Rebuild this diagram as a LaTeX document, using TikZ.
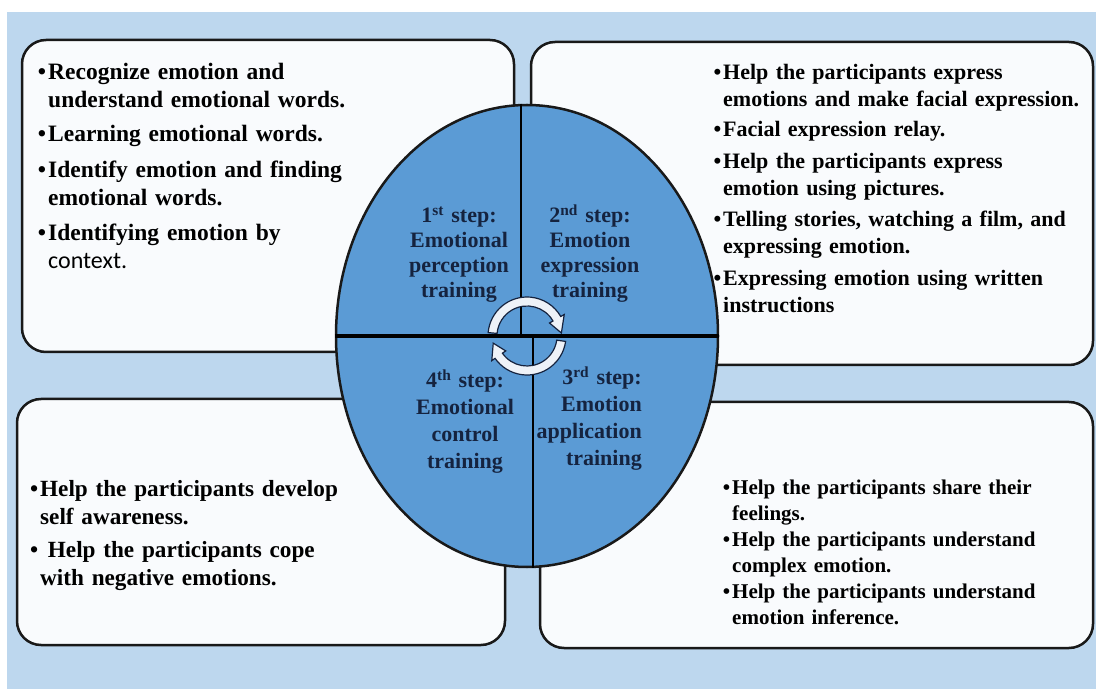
\documentclass[tikz,border=0pt]{standalone}
\usepackage{fontspec}
\setmainfont{Liberation Serif}
\newfontfamily\ctxfont{Carlito}
\usetikzlibrary{shapes.geometric,calc}

\definecolor{bgblue}{HTML}{BDD7EE}
\definecolor{wheelblue}{HTML}{5B9BD5}
\definecolor{panelfill}{HTML}{F9FBFD}
\definecolor{steptext}{HTML}{15233F}
\definecolor{arrowfill}{HTML}{EEF2F8}

\newcommand{\itm}{\makebox[0pt][r]{\textbullet\hspace{2pt}}}

\tikzset{
  panel/.style={draw=black!90, fill=panelfill, line width=2.5pt, rounded corners=24pt, inner sep=0pt},
  wheel/.style={ellipse, draw=black!90, fill=wheelblue, line width=2.5pt, inner sep=0pt},
  bullets/.style={anchor=base west, align=left, inner sep=0pt},
  steplabel/.style={inner sep=0pt, anchor=base, align=center, text width=120pt, text=steptext},
  cyclearrow/.style={fill=arrowfill, draw=steptext, line width=1.2pt}
}

\begin{document}
\begin{tikzpicture}[x=1pt, y=1pt]
  \useasboundingbox (0,0) rectangle (1096,689);
  \fill[white] (0,0) rectangle (1096,689);
  \fill[bgblue] (7,0) rectangle (1096,677);

  % the four text panels
  \foreach \n/\x/\y/\w/\h in {tl/268/493/492/312, tr/812/485.5/562/323,
                              bl/261/167/488/246, br/816.5/164/553/246}
    \node[panel, minimum width=\w, minimum height=\h] (\n) at (\x,\y) {};

  \node[bullets, text width=340pt, font=\bfseries\fontsize{23.5}{28}\selectfont] (tltext) at (48,609)
    {\itm Recognize emotion and\\
     understand emotional words.\\[6pt]
     \itm Learning emotional words.\\[8pt]
     \itm Identify emotion and finding\\
     emotional words.\\[7pt]
     \itm Identifying emotion by\\
     {\ctxfont\mdseries\fontsize{24}{28}\selectfont context.}};

  \node[bullets, text width=370pt, font=\bfseries\fontsize{22}{27}\selectfont] (trtext) at (723,609)
    {\itm Help the participants express\\
     emotions and make facial expression.\\[3pt]
     \itm Facial expression relay.\\[5pt]
     \itm Help the participants express\\
     emotion using pictures.\\[4pt]
     \itm Telling stories, watching a film, and\\
     expressing emotion.\\[5pt]
     \itm Expressing emotion using written\\
     instructions};

  \node[bullets, text width=330pt, font=\bfseries\fontsize{23.2}{28}\selectfont] (bltext) at (40,192)
    {\itm Help the participants develop\\
     self awareness.\\[5pt]
     \itm\ Help the participants cope\\
     with negative emotions.};

  \node[bullets, text width=330pt, font=\bfseries\fontsize{21}{26}\selectfont] (brtext) at (732,194)
    {\itm Help the participants share their\\
     feelings.\\
     \itm Help the participants understand\\
     complex emotion.\\
     \itm Help the participants understand\\
     emotion inference.};

  % the wheel of steps
  \node[wheel, minimum width=382pt, minimum height=462pt] (wheel) at (527,353) {};
  \draw[line width=2pt] ($(wheel.north)+(-6,0)$) -- ($(wheel.center)+(-6,0)$);
  \draw[line width=2pt] ($(wheel.center)+(6,0)$) -- ($(wheel.south)+(6,0)$);
  \draw[line width=3.5pt] (wheel.west) -- (wheel.east);

  \node[steplabel, font=\bfseries\fontsize{22}{25}\selectfont] (step1) at (459,466)
    {1\textsuperscript{st} step:\\Emotional\\perception\\training};
  \node[steplabel, font=\bfseries\fontsize{22}{25}\selectfont] (step2) at (590,466)
    {2\textsuperscript{nd} step:\\Emotion\\expression\\training};
  \node[steplabel, font=\bfseries\fontsize{22}{27}\selectfont, anchor=base east, align=right] (step3) at (642,304)
    {3\textsuperscript{rd} step:\\Emotion\\application\\training};
  \node[steplabel, font=\bfseries\fontsize{22}{27}\selectfont] (step4) at (465,301)
    {4\textsuperscript{th} step:\\Emotional\\control\\training};

  % cycle arrows in the middle
  \begin{scope}[shift={(wheel.center)}]
    \filldraw[cyclearrow] (175:39) arc[start angle=175, end angle=30, radius=39]
      -- (30:43) -- (5:34.5) -- (30:26) -- (30:30)
      arc[start angle=30, end angle=175, radius=30] -- cycle;
    \filldraw[cyclearrow] (-8:39) arc[start angle=-8, end angle=-145, radius=39]
      -- (-145:43) -- (-168:34.5) -- (-145:26) -- (-145:30)
      arc[start angle=-145, end angle=-8, radius=30] -- cycle;
  \end{scope}
\end{tikzpicture}
\end{document}
